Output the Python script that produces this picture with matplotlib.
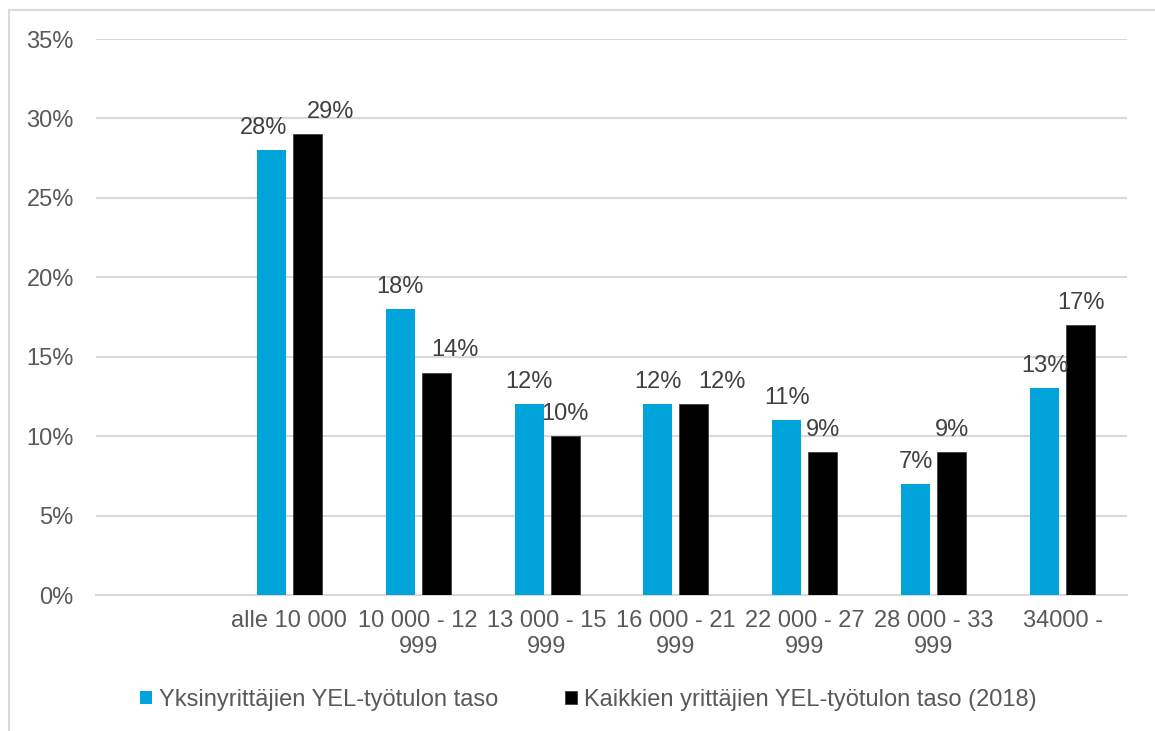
import matplotlib.pyplot as plt
import numpy as np
from matplotlib.patches import Rectangle
from matplotlib.ticker import FuncFormatter

plt.rcParams['font.family'] = ['Liberation Sans', 'DejaVu Sans']

# Data
categories = ["", "alle 10 000", "10 000 - 12\n999", "13 000 - 15\n999",
              "16 000 - 21\n999", "22 000 - 27\n999", "28 000 - 33\n999", "34000 -"]
yksin = [np.nan, 28, 18, 12, 12, 11, 7, 13]
kaikki = [np.nan, 29, 14, 10, 12, 9, 9, 17]
series_names = ["Yksinyrittäjien YEL-työtulon taso",
                "Kaikkien yrittäjien YEL-työtulon taso (2018)"]

# label x-shifts (px) to mimic the reference label placement
yksin_dx = [0, -8, 0, 0, 0, 0, 0, 0]
kaikki_dx = [0, 23, 19, 0, 28, 0, 0, 0]

blue = "#00a3da"
black = "#000000"
text_col = "#595959"
grid_col = "#d9d9d9"
fs = 17

fig = plt.figure(figsize=(11.55, 7.31), dpi=100)
ax = fig.add_axes([96 / 1155, 1 - 595 / 731, 1031 / 1155, 556 / 731])

x = np.arange(len(categories))
w = 0.225
off = 0.14
b1 = ax.bar(x - off, yksin, w, color=blue, zorder=3)
b2 = ax.bar(x + off, kaikki, w, color=black, edgecolor="#404040", linewidth=0.6, zorder=3)

for bars, vals, dxs in ((b1, yksin, yksin_dx), (b2, kaikki, kaikki_dx)):
    for rect, v, dx in zip(bars, vals, dxs):
        if np.isnan(v):
            continue
        ax.annotate(f"{v:.0f}%", (rect.get_x() + rect.get_width() / 2, v),
                    xytext=(dx * 0.72, 8), textcoords="offset points",
                    ha="center", va="bottom", fontsize=fs, color="#404040")

ax.set_xlim(-0.5, len(categories) - 0.5)
ax.set_ylim(0, 35)
ax.set_yticks(np.arange(0, 36, 5))
ax.yaxis.set_major_formatter(FuncFormatter(lambda v, p: f"{v:.0f}%"))
ax.set_xticks(x)
ax.set_xticklabels(categories, linespacing=1.22)
ax.tick_params(axis="both", length=0, labelsize=fs, labelcolor=text_col)
ax.tick_params(axis="y", pad=16)
ax.tick_params(axis="x", pad=11)
ax.grid(axis="y", color=grid_col, linewidth=1.5, zorder=0)
for s in ["top", "right", "left"]:
    ax.spines[s].set_visible(False)
ax.spines["bottom"].set_color(grid_col)
ax.spines["bottom"].set_linewidth(1.5)

fig.legend([b1, b2], series_names, loc="center", bbox_to_anchor=(0.5095, 1 - 700 / 731),
           ncol=2, frameon=False, fontsize=fs, labelcolor=text_col,
           handlelength=0.5, handleheight=0.5, handletextpad=0.3, columnspacing=2.85)

fig.patches.append(Rectangle((9 / 1155, -0.1), 1.2, 1.1 - 10 / 731, transform=fig.transFigure,
                             fill=False, edgecolor=grid_col, linewidth=1.5, clip_on=False))

fig.savefig("out.png", dpi=100)
